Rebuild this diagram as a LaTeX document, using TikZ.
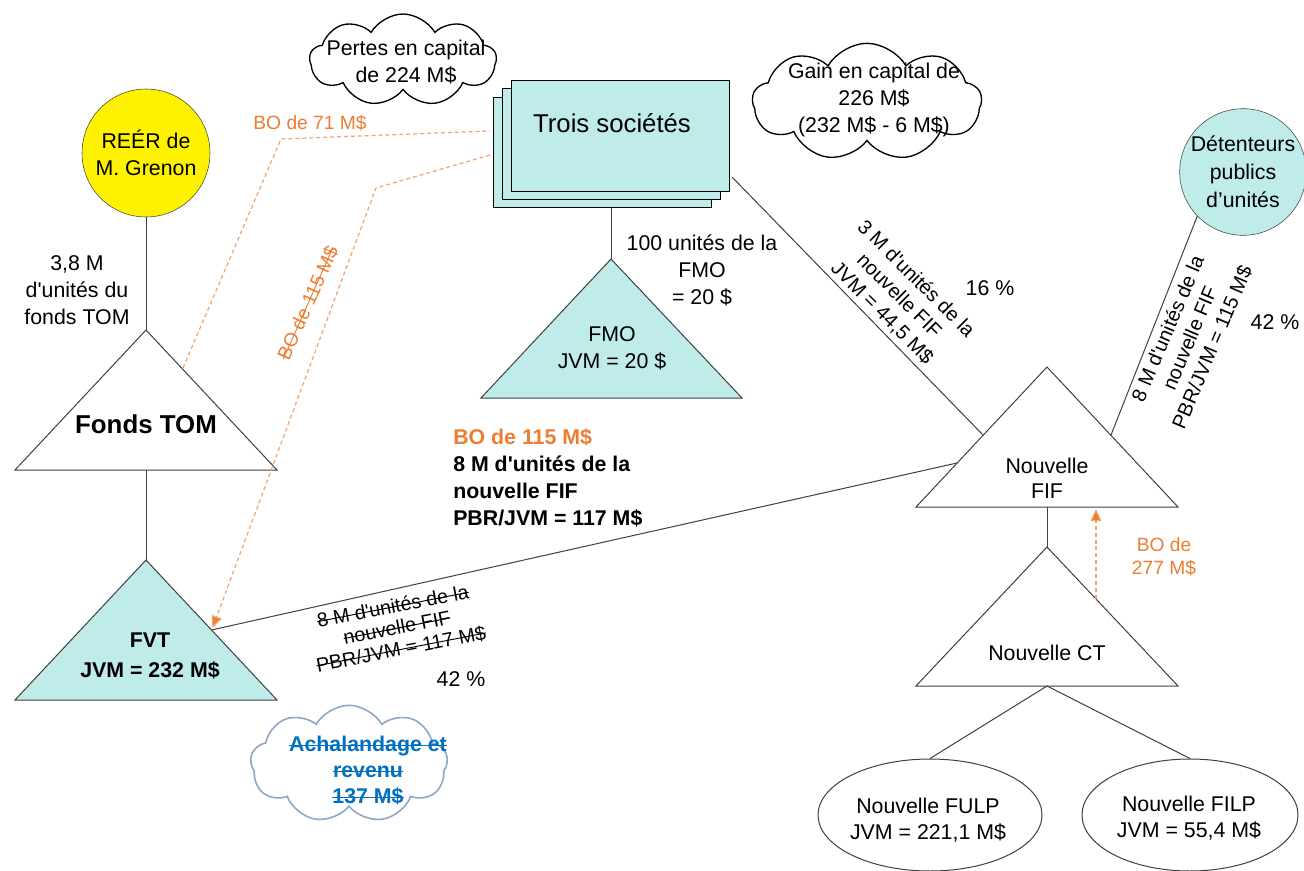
\documentclass[tikz,border=0pt]{standalone}
\usepackage{fontspec}
\setmainfont{Liberation Sans}
\usetikzlibrary{shapes.symbols,shapes.geometric,calc,arrows.meta}

\definecolor{fundcyan}{HTML}{BFEBE9}
\definecolor{boorange}{HTML}{ED7D31}
\definecolor{bodash}{HTML}{F2A46E}
\definecolor{goodwillblue}{HTML}{0070C0}
\definecolor{cloudline}{HTML}{8EA7CB}
\definecolor{linegray}{HTML}{404040}

\newcommand{\apos}{\textquotesingle}
% struck-through text: the text, with a rule across it
\newsavebox{\strikebox}
\newcommand{\strike}[1]{\leavevmode\sbox{\strikebox}{#1}%
  \rlap{\usebox{\strikebox}}\rule[0.3em]{\wd\strikebox}{0.7pt}}

\tikzset{
  txt/.style={inner sep=0pt, align=center, font=\fontsize{16}{20.25}\selectfont},
  boldtxt/.style={txt, font=\fontsize{16}{23}\selectfont\bfseries},
  rottxt/.style={inner sep=0pt, align=center, font=\fontsize{15}{18}\selectfont},
  botxt/.style={inner sep=0pt, align=center, text=boorange, font=\fontsize{14.4}{17.5}\selectfont},
  link/.style={draw=linegray, line width=0.75pt},
  tri/.style={draw=linegray, line width=0.75pt},
  bolink/.style={draw=bodash, dash pattern=on 3pt off 2.2pt, line width=0.9pt},
  boarrow/.style={bolink, -{Triangle[length=9pt,width=8pt,fill=boorange]}},
  thought/.style={cloud, draw=black, fill=white, line width=1pt, cloud puffs=9,
    cloud puff arc=120, cloud ignores aspect, inner sep=0pt},
  stack/.style={draw=black, fill=fundcyan, line width=0.75pt,
    minimum width=164pt, minimum height=83pt, inner sep=0pt}
}

\begin{document}
\begin{tikzpicture}[x=0.75pt,y=-0.75pt]
\useasboundingbox[fill=white] (0,0) rectangle (1304,871);

% thought clouds
\node[thought, minimum width=140pt, minimum height=69pt] (losscloud) at (403,60) {};
\node[txt] (loss) at (406,62) {Pertes en capital\\de 224 M\$};
\node[thought, minimum width=172pt, minimum height=88pt] (gaincloud) at (867,102) {};
\node[txt] (gain) at (874,100) {Gain en capital de\\226 M\$\\(232 M\$ - 6 M\$)};
\node[thought, draw=cloudline, line width=1.2pt, minimum width=148pt, minimum height=88pt] (gwcloud) at (349,764) {};
\node[txt, font=\fontsize{16}{19.5}\selectfont\bfseries, text=goodwillblue] (gw) at (368,771)
  {\strike{Achalandage et}\\\strike{revenu}\\\strike{137 M\$}};

% the three companies (stacked sheets)
\node[stack] (soc3) at (602.5,152.5) {};
\node[stack] (soc2) at (611.5,144) {};
\node[stack] (soc1) at (620.5,136) {};
\node[inner sep=0pt, font=\fontsize{19.3}{23}\selectfont] (soc) at (612,123) {Trois sociétés};

% RRSP circle
\node[circle, draw=linegray, fill=yellow, minimum size=96pt, inner sep=0pt, align=center,
  font=\fontsize{16}{20.25}\selectfont] (reer) at (146,153) {REÉR de\\M. Grenon};

% public unitholders
\node[circle, draw=linegray, fill=fundcyan, minimum size=94.5pt, inner sep=0pt, align=center,
  font=\fontsize{16}{21}\selectfont] (pub) at (1243,172) {Détenteurs\\publics\\d’unités};

% fund triangles
\coordinate (tom-top) at (146,330);
\coordinate (fvt-top) at (146,560);
\coordinate (fmo-top) at (611,259);
\coordinate (fif-top) at (1047,367);
\coordinate (ct-top)  at (1047,547);
\draw[tri, fill=white]    (tom-top) -- ++(131,140) -- ++(-262,0) -- cycle;
\draw[tri, fill=fundcyan] (fvt-top) -- ++(131,140) -- ++(-262,0) -- cycle;
\draw[tri, fill=fundcyan] (fmo-top) -- ++(131,139) -- ++(-261,0) -- cycle;
\draw[tri, fill=white]    (fif-top) -- ++(131,140) -- ++(-262,0) -- cycle;
\draw[tri, fill=white]    (ct-top)  -- ++(131,139) -- ++(-262,0) -- cycle;
\coordinate (tom-bot) at ($(tom-top)+(0,140)$);
\coordinate (fif-bot) at ($(fif-top)+(0,140)$);
\coordinate (ct-bot)  at ($(ct-top)+(0,139)$);
\coordinate (fvt-r)   at ($(fvt-top)+(65.5,70)$);
\coordinate (fif-l)   at ($(fif-top)+(-90,96)$);
\coordinate (fif-ul)  at ($(fif-top)+(-64,68)$);
\coordinate (fif-ur)  at ($(fif-top)+(64,68)$);
\coordinate (soc-out) at (732,177);

\node[boldtxt, font=\fontsize{19.4}{23}\selectfont\bfseries] (tom) at (146,424) {Fonds TOM};
\node[boldtxt] (fvt) at (150,656) {FVT\\JVM = 232 M\$};
\node[txt] (fmo) at (612,348) {FMO\\JVM = 20 \$};
\node[txt, font=\fontsize{16}{19}\selectfont] (fif) at (1047,478) {Nouvelle\\FIF};
\node[txt] (ct) at (1047,653) {Nouvelle CT};

% partnerships
\node[ellipse, draw=linegray, line width=0.75pt, minimum width=168pt, minimum height=84pt,
  inner sep=0pt] (fulp) at (930,815) {};
\node[txt, font=\fontsize{16}{19.5}\selectfont] (fulptxt) at (928,820) {Nouvelle FULP\\JVM = 221,1 M\$};
\node[ellipse, draw=linegray, line width=0.75pt, minimum width=162pt, minimum height=84pt,
  inner sep=0pt] (filp) at (1190,815) {};
\node[txt, font=\fontsize{16}{19.5}\selectfont] (filptxt) at (1189,818) {Nouvelle FILP\\JVM = 55,4 M\$};

% ownership links
\draw[link] (reer.south) -- (tom-top);
\draw[link] (tom-bot) -- (fvt-top);
\draw[link] (soc3.south -| fmo-top) -- (fmo-top);
\draw[link] (soc-out) -- (fif-ul);
\draw[link] (pub.224) -- (fif-ur);
\draw[link] (fvt-r) -- (fif-l);
\draw[link] (fif-bot) -- (ct-top);
\draw[link] (ct-bot) -- (fulp.north);
\draw[link] (ct-bot) -- (filp.north);

% link labels
\node[txt] (tomunits) at (77,290) {3,8 M\\d\apos unités du\\fonds TOM};
\node[txt] (fmounits) at (702,270) {100 unités de la\\FMO\\= 20 \$};
\node[rottxt, rotate=-45] (socunits) at (899,296) {3 M d\apos unités de la\\nouvelle FIF\\JVM = 44,5 M\$};
\node[txt] (pct16) at (990,288) {16 \%};
\node[rottxt, rotate=67] (pubunits) at (1190,338) {8 M d\apos unités de la\\nouvelle FIF\\PBR/JVM = 115 M\$};
\node[txt] (pct42a) at (1275,322) {42 \%};
\node[rottxt, font=\fontsize{14.8}{16.2}\selectfont, rotate=11] (oldunits) at (397,628)
  {\strike{8 M d\apos unités de la}\\\strike{nouvelle FIF}\\\strike{PBR/JVM = 117 M\$}};
\node[txt] (pct42b) at (461,679) {42 \%};
\node[inner sep=0pt, align=left, anchor=west, font=\fontsize{16}{20.25}\selectfont\bfseries] (newunits) at (453,478)
  {\textcolor{boorange}{BO de 115 M\$}\\8 M d\apos unités de la\\nouvelle FIF\\PBR/JVM = 117 M\$};

% orange dashed BO flows
\coordinate (bo71-a) at ($(tom-top)+(37,38)$);
\coordinate (bo71-b) at (281,139);
\coordinate (bo71-c) at (490,131);
\coordinate (bo115-a) at (490,155);
\coordinate (bo115-b) at (376,188);
\draw[bolink] (bo71-a) -- (bo71-b) -- (bo71-c);
\draw[boarrow] (bo115-a) -- (bo115-b) -- ($(fvt-r)+(1,-2)$);
\draw[boarrow] ($(ct-top)+(49,52)$) -- ($(fif-bot)+(49,2)$);
\node[botxt] (bo71) at (310,123) {BO de 71 M\$};
\node[botxt, rotate=66] (bo115) at (308,303) {\strike{BO de 115 M\$}};
\node[botxt] (bo277) at (1164,557) {BO de\\277 M\$};
\end{tikzpicture}
\end{document}
